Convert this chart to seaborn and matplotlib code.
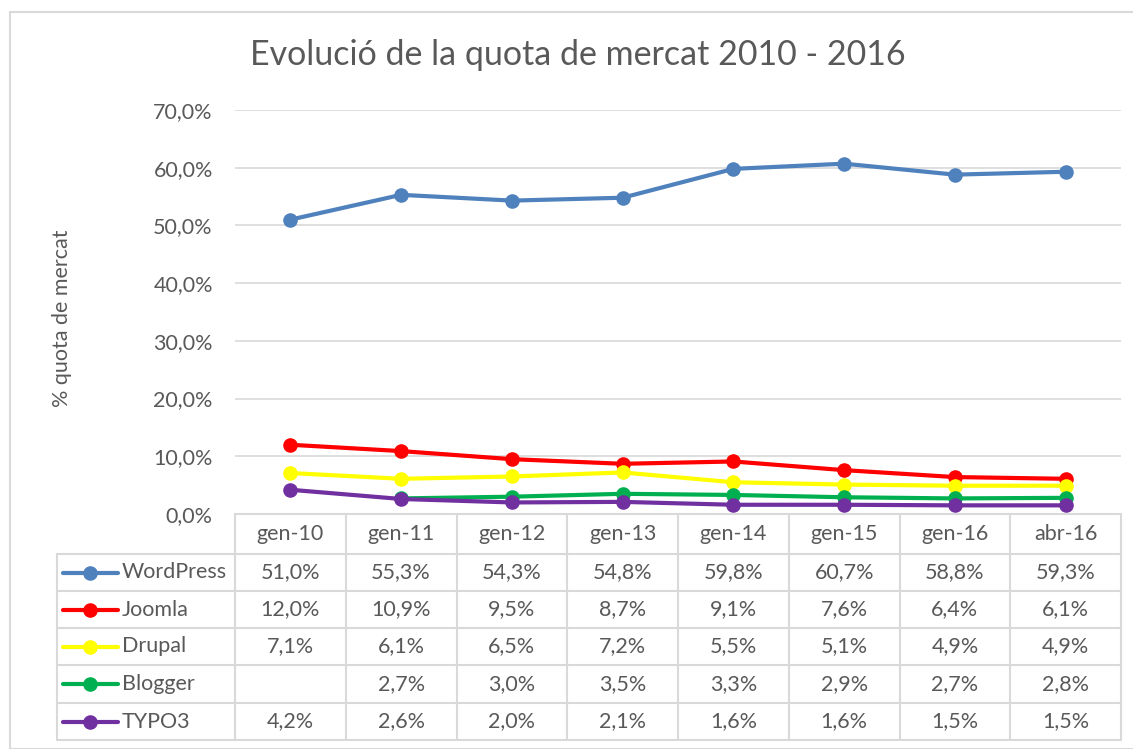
import matplotlib.pyplot as plt
import seaborn as sns
import pandas as pd
import numpy as np
from matplotlib.patches import Rectangle
from matplotlib.lines import Line2D

# Dades
periodes = ['gen-10', 'gen-11', 'gen-12', 'gen-13', 'gen-14', 'gen-15', 'gen-16', 'abr-16']
wordpress = [51.0, 55.3, 54.3, 54.8, 59.8, 60.7, 58.8, 59.3]
joomla = [12.0, 10.9, 9.5, 8.7, 9.1, 7.6, 6.4, 6.1]
drupal = [7.1, 6.1, 6.5, 7.2, 5.5, 5.1, 4.9, 4.9]
blogger = [np.nan, 2.7, 3.0, 3.5, 3.3, 2.9, 2.7, 2.8]
typo3 = [4.2, 2.6, 2.0, 2.1, 1.6, 1.6, 1.5, 1.5]

series = ['WordPress', 'Joomla', 'Drupal', 'Blogger', 'TYPO3']
colors = ['#4F81BD', '#FF0000', '#FFFF00', '#00B050', '#7030A0']

df = pd.DataFrame({'WordPress': wordpress, 'Joomla': joomla, 'Drupal': drupal,
                   'Blogger': blogger, 'TYPO3': typo3})
df['pos'] = range(len(periodes))

sns.set_style('white')
plt.rcParams['font.family'] = ['Lato', 'DejaVu Sans']
gris = '#595959'
linia = '#D9D9D9'
fs = 15.5

W, H = 1133, 749
fig = plt.figure(figsize=(W / 100, H / 100), dpi=100)

def px(x0, y0, x1, y1):
    return [x0 / W, 1 - y1 / H, (x1 - x0) / W, (y1 - y0) / H]

# Marc del gràfic
fig.patches.append(Rectangle((10 / W, 0), 1, 1 - 12 / H, transform=fig.transFigure,
                             fill=False, edgecolor=linia, linewidth=1.5))

ax = fig.add_axes(px(235, 110, 1121, 514))
for nom, col in zip(series, colors):
    sns.lineplot(data=df, x='pos', y=nom, ax=ax, color=col, linewidth=3,
                 marker='o', markersize=10.5, markeredgewidth=0)
ax.set_xlim(-0.5, len(periodes) - 0.5)
ax.set_ylim(0, 70)
ax.set_yticks(range(0, 71, 10))
ax.set_yticklabels([f'{v},0%' for v in range(0, 71, 10)], color=gris, fontsize=fs)
ax.yaxis.grid(True, color=linia, linewidth=1.2)
ax.set_xticks([])
ax.set_xlabel('')
ax.set_ylabel('')
ax.tick_params(axis='y', length=0, pad=16)
for s in ax.spines.values():
    s.set_visible(False)

fig.text(62 / W, 1 - 318 / H, '% quota de mercat', rotation=90, ha='center', va='center',
         color=gris, fontsize=fs)
fig.text(578 / W, 1 - 55 / H, 'Evolució de la quota de mercat 2010 - 2016', ha='center',
         va='center', color=gris, fontsize=24.5)

# Taula de dades
tx0, tx1 = 57, 1121
ty = [514, 554, 591, 628, 665, 703, 740]
colw = (1121 - 235) / len(periodes)
tab = fig.add_axes(px(0, 0, W, H))
tab.set_xlim(0, W)
tab.set_ylim(H, 0)
tab.axis('off')

kw = dict(color=linia, linewidth=1.5)
tab.plot([235, tx1], [ty[0], ty[0]], **kw)
for y in ty[1:]:
    tab.plot([tx0, tx1], [y, y], **kw)
tab.plot([tx0, tx0], [ty[1], ty[-1]], **kw)
for i in range(len(periodes) + 1):
    x = 235 + i * colw
    tab.plot([x, x], [ty[0], ty[-1]], **kw)

for i, p in enumerate(periodes):
    tab.text(235 + (i + 0.5) * colw, (ty[0] + ty[1]) / 2, p, ha='center', va='center',
             color=gris, fontsize=fs)

for r, (nom, col) in enumerate(zip(series, colors)):
    yc = (ty[r + 1] + ty[r + 2]) / 2
    tab.add_line(Line2D([63, 118], [yc, yc], color=col, linewidth=3))
    tab.plot([90], [yc], 'o', color=col, markersize=10.5, markeredgewidth=0)
    tab.text(122, yc, nom, ha='left', va='center', color=gris, fontsize=fs)
    for i, v in enumerate(df[nom]):
        if np.isnan(v):
            continue
        tab.text(235 + (i + 0.5) * colw, yc, f'{v:.1f}%'.replace('.', ','), ha='center',
                 va='center', color=gris, fontsize=fs)

fig.savefig('out.png', dpi=100)
